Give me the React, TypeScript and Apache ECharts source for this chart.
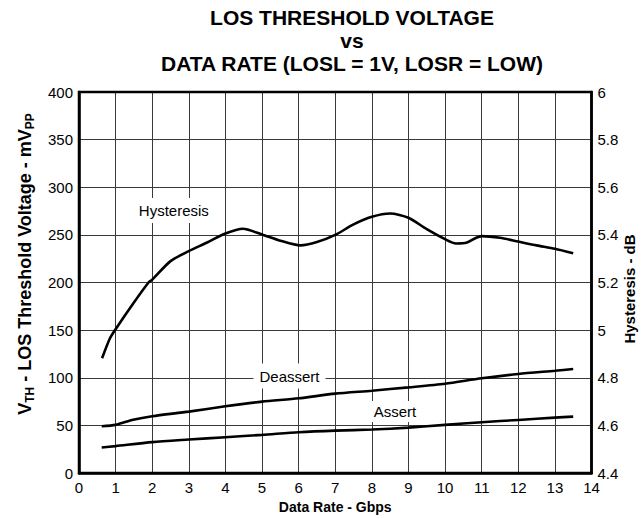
import React, { useEffect, useRef } from 'react';
import * as echarts from 'echarts';

const FONT = '"Liberation Sans", Arial, Helvetica, sans-serif';

const titleLines = ['LOS THRESHOLD VOLTAGE', 'vs', 'DATA RATE (LOSL = 1V, LOSR = LOW)'];
const xAxisName = 'Data Rate - Gbps';
const rightAxisName = 'Hysteresis - dB';

// Hysteresis (dB, right axis)
const hystX = [0.63, 0.84, 1.0, 1.5, 1.9, 2.0, 2.5, 3.0, 3.5, 4.0, 4.48, 5.0, 5.5, 6.05, 6.5, 7.0, 7.5, 8.0, 8.5, 9.0, 9.5, 10.0, 10.3, 10.6, 10.85, 11.0, 11.5, 12.0, 12.5, 13.0, 13.5];
const hystDb = [4.882, 4.964, 5.004, 5.116, 5.2, 5.212, 5.29, 5.332, 5.368, 5.406, 5.426, 5.402, 5.376, 5.356, 5.37, 5.4, 5.444, 5.476, 5.49, 5.472, 5.424, 5.382, 5.364, 5.368, 5.388, 5.395, 5.388, 5.372, 5.356, 5.342, 5.323];

// Deassert (mVpp, left axis)
const deassertX = [0.62, 1, 1.48, 2, 3, 4, 5, 6, 7, 8, 9, 10, 11, 12, 13, 13.5];
const deassertMv = [49.2, 50.6, 56, 59.7, 64.5, 70.2, 75, 78.5, 83.4, 86.5, 90, 93.8, 99.5, 104, 107.4, 109.2];

// Assert (mVpp, left axis)
const assertX = [0.62, 1, 2, 3, 4, 5, 6, 7, 8, 9, 10, 11, 12, 13, 13.5];
const assertMv = [26.8, 28.3, 32.5, 35.2, 37.7, 40.1, 42.9, 44.6, 45.7, 47.7, 50.6, 53.4, 55.8, 58.2, 59.3];

// Curve label anchors
const hystLabel = { name: 'Hysteresis', x: 2.59, y: 5.503 };
const deassertLabel = { name: 'Deassert', x: 5.75, y: 101.9 };
const assertLabel = { name: 'Assert', x: 8.63, y: 64.7 };

const zip = (xs: number[], ys: number[]) => xs.map((x, i) => [x, ys[i]]);

const gridLine = { show: true, lineStyle: { color: '#3a3a3a', width: 1 } };
const frameLine = { show: true, onZero: false, lineStyle: { color: '#000', width: 2.5 } };

const labelStyle = (pad: number[]) => ({
  show: true,
  position: 'inside',
  color: '#000',
  fontSize: 15,
  fontFamily: FONT,
  backgroundColor: '#fff',
  padding: pad,
});

export default function App() {
  const ref = useRef<HTMLDivElement>(null);
  useEffect(() => {
    document.body.style.margin = '0';
    document.body.style.overflow = 'hidden';
    if (!ref.current) return;
    const chart = echarts.init(ref.current, undefined, { renderer: 'svg' });
    const lineSeries = (name: string, data: number[][], yAxisIndex: number, lbl: any, pad: number[]) => ({
      type: 'line',
      name,
      data,
      yAxisIndex,
      showSymbol: false,
      symbol: 'none',
      smooth: 0.25,
      lineStyle: { color: '#000', width: 2.6 },
      z: 5,
      markPoint: {
        symbol: 'rect',
        symbolSize: 1,
        itemStyle: { color: 'rgba(0,0,0,0)' },
        label: { ...labelStyle(pad), formatter: lbl.name },
        data: [{ coord: [lbl.x, lbl.y] }],
        z: 6,
      },
    });
    chart.setOption({
      animation: false,
      backgroundColor: '#fff',
      textStyle: { fontFamily: FONT },
      grid: { left: 79, right: 51.5, top: 92, bottom: 45, show: true, borderColor: '#000', borderWidth: 2.5, backgroundColor: 'rgba(0,0,0,0)', z: 3 },
      xAxis: {
        type: 'value', min: 0, max: 14, interval: 1,
        axisLine: frameLine, axisTick: { show: false },
        axisLabel: { color: '#000', fontSize: 15, margin: 7, fontFamily: FONT },
        splitLine: gridLine,
        name: xAxisName, nameLocation: 'middle', nameGap: 22,
        nameTextStyle: { color: '#000', fontSize: 14, fontWeight: 'bold', fontFamily: FONT },
      },
      yAxis: [
        {
          type: 'value', min: 0, max: 400, interval: 50, position: 'left',
          axisLine: frameLine, axisTick: { show: false },
          axisLabel: { color: '#000', fontSize: 15, margin: 6, fontFamily: FONT },
          splitLine: gridLine,
        },
        {
          type: 'value', min: 4.4, max: 6, interval: 0.2, position: 'right',
          axisLine: frameLine, axisTick: { show: false },
          axisLabel: { color: '#000', fontSize: 15, margin: 6, fontFamily: FONT, formatter: (v: number) => String(Math.round(v * 10) / 10) },
          splitLine: { show: false },
        },
      ],
      graphic: [
        {
          type: 'text', x: 352, y: 6,
          style: { text: titleLines.join('\n'), font: `bold 21px ${FONT}`, fill: '#000', align: 'center', verticalAlign: 'top', lineHeight: 23 },
        },
        {
          type: 'text', x: 25, y: 264, rotation: Math.PI / 2,
          style: {
            text: '{b|V}{s|TH}{b| - LOS Threshold Voltage - mV}{s|PP}',
            align: 'center', verticalAlign: 'middle', fill: '#000',
            rich: {
              b: { fontFamily: FONT, fontWeight: 'bold', fontSize: 18, lineHeight: 22, fill: '#000', verticalAlign: 'middle' },
              s: { fontFamily: FONT, fontWeight: 'bold', fontSize: 12, lineHeight: 22, fill: '#000', verticalAlign: 'bottom' },
            },
          },
        },
        {
          type: 'text', x: 629, y: 289, rotation: Math.PI / 2,
          style: { text: rightAxisName, font: `bold 15px ${FONT}`, fill: '#000', align: 'center', verticalAlign: 'middle' },
        },
      ],
      series: [
        lineSeries('Hysteresis', zip(hystX, hystDb), 1, hystLabel, [5, 4, 5, 4]),
        lineSeries('Deassert', zip(deassertX, deassertMv), 0, deassertLabel, [5, 6, 5, 6]),
        lineSeries('Assert', zip(assertX, assertMv), 0, assertLabel, [3, 4, 3, 4]),
      ],
    });
    return () => chart.dispose();
  }, []);
  return <div ref={ref} style={{ width: 643, height: 519 }} />;
}
